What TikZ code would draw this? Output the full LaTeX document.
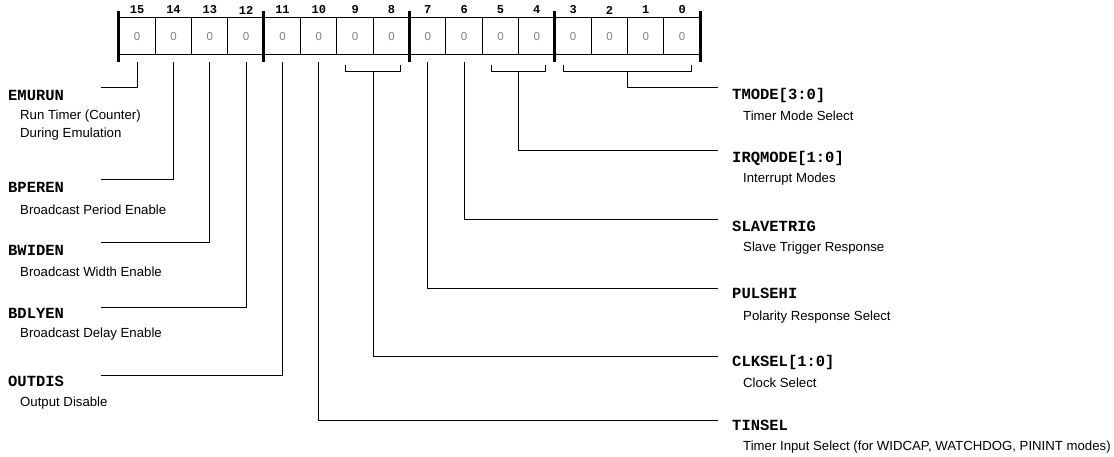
\documentclass[tikz,border=0pt]{standalone}
\usepackage{fontspec}
\setmainfont{Liberation Sans}
\setsansfont{Liberation Sans}
\setmonofont{Liberation Mono}
\usetikzlibrary{calc}
\begin{document}
\begin{tikzpicture}[x=1pt,y=-1pt,
  cell/.style={draw, line width=1pt, minimum width=36.33pt, minimum height=37pt, inner sep=0pt,
    font=\fontsize{11.5}{11.5}\selectfont\sffamily, text=black!50},
  hdr/.style={font=\fontsize{12}{12}\selectfont\ttfamily\bfseries, inner sep=0pt},
  divider/.style={line width=3pt},
  lead/.style={line width=1pt},
  title/.style={anchor=west, inner sep=0pt, font=\fontsize{15.5}{15.5}\selectfont\ttfamily\bfseries},
  desc/.style={anchor=west, inner sep=0pt, font=\fontsize{13.2}{17.5}\selectfont, align=left},
]
\useasboundingbox (0,0) rectangle (1114,457);
\foreach \i in {0,...,15} {
  \pgfmathtruncatemacro\b{15-\i}
  \node[cell] (c\b) at ({119+(\i+0.5)*36.33}, 36.5) {0};
  \node[hdr] (h\b) at ({119+(\i+0.5)*36.33}, 10) {\b};
}
% thick dividers
\foreach \n in {15,11,7,3}
  \draw[divider] ([yshift=6pt]c\n.north west) -- ([yshift=-7pt]c\n.south west);
\draw[divider] ([yshift=6pt]c0.north east) -- ([yshift=-7pt]c0.south east);

% left labels
\node[title] (tEMURUN) at (8,95) {EMURUN};
\node[desc]  (dEMURUN) at (20,125) {Run Timer (Counter)\\During Emulation};
\node[title] (tBPEREN) at (8,187) {BPEREN};
\node[desc]  (dBPEREN) at (20,210) {Broadcast Period Enable};
\node[title] (tBWIDEN) at (8,250) {BWIDEN};
\node[desc]  (dBWIDEN) at (20,272) {Broadcast Width Enable};
\node[title] (tBDLYEN) at (8,313) {BDLYEN};
\node[desc]  (dBDLYEN) at (20,334) {Broadcast Delay Enable};
\node[title] (tOUTDIS) at (8,381) {OUTDIS};
\node[desc]  (dOUTDIS) at (20,403) {Output Disable};

% right labels
\node[title] (tTMODE) at (732,95) {TMODE[3:0]};
\node[desc]  (dTMODE) at (743,116) {Timer Mode Select};
\node[title] (tIRQMODE) at (732,158) {IRQMODE[1:0]};
\node[desc]  (dIRQMODE) at (743,179) {Interrupt Modes};
\node[title] (tSLAVETRIG) at (732,226) {SLAVETRIG};
\node[desc]  (dSLAVETRIG) at (743,248) {Slave Trigger Response};
\node[title] (tPULSEHI) at (732,293) {PULSEHI};
\node[desc]  (dPULSEHI) at (743,317) {Polarity Response Select};
\node[title] (tCLKSEL) at (732,362) {CLKSEL[1:0]};
\node[desc]  (dCLKSEL) at (743,383) {Clock Select};
\node[title] (tTINSEL) at (732,425) {TINSEL};
\node[desc]  (dTINSEL) at (743,447) {Timer Input Select (for WIDCAP, WATCHDOG, PININT modes)};

% leader end points
\coordinate (eEMURUN) at (101,88);
\coordinate (eBPEREN) at (101,180);
\coordinate (eBWIDEN) at (101,243);
\coordinate (eBDLYEN) at (101,307);
\coordinate (eOUTDIS) at (101,375);
\coordinate (eTMODE) at (718,88);
\coordinate (eIRQMODE) at (718,151);
\coordinate (eSLAVETRIG) at (718,220);
\coordinate (ePULSEHI) at (718,288);
\coordinate (eCLKSEL) at (718,356);
\coordinate (eTINSEL) at (718,420);

% single-bit leaders
\draw[lead] ([yshift=-7pt]c15.south) |- (eEMURUN);
\draw[lead] ([yshift=-7pt]c14.south) |- (eBPEREN);
\draw[lead] ([yshift=-7pt]c13.south) |- (eBWIDEN);
\draw[lead] ([yshift=-7pt]c12.south) |- (eBDLYEN);
\draw[lead] ([yshift=-7pt]c11.south) |- (eOUTDIS);
\draw[lead] ([yshift=-7pt]c10.south) |- (eTINSEL);
\draw[lead] ([yshift=-7pt]c7.south) |- (ePULSEHI);
\draw[lead] ([yshift=-7pt]c6.south) |- (eSLAVETRIG);

% brackets
\draw[lead] ([xshift=9.5pt,yshift=-10pt]c9.south west) |- ([xshift=-9.5pt,yshift=-16pt]c8.south east) -- ([xshift=-9.5pt,yshift=-10pt]c8.south east);
\draw[lead] ([xshift=9.5pt,yshift=-10pt]c5.south west) |- ([xshift=-9.5pt,yshift=-16pt]c4.south east) -- ([xshift=-9.5pt,yshift=-10pt]c4.south east);
\draw[lead] ([xshift=9.5pt,yshift=-10pt]c3.south west) |- ([xshift=-9.5pt,yshift=-16pt]c0.south east) -- ([xshift=-9.5pt,yshift=-10pt]c0.south east);
\coordinate (s98) at ($(c9.south)!0.5!(c8.south)+(0,16)$);
\coordinate (s54) at ($(c5.south)!0.5!(c4.south)+(0,16)$);
\coordinate (s30) at ($(c3.south)!0.5!(c0.south)+(0,16)$);
\draw[lead] (s98) |- (eCLKSEL);
\draw[lead] (s54) |- (eIRQMODE);
\draw[lead] (s30) |- (eTMODE);
\end{tikzpicture}
\end{document}
